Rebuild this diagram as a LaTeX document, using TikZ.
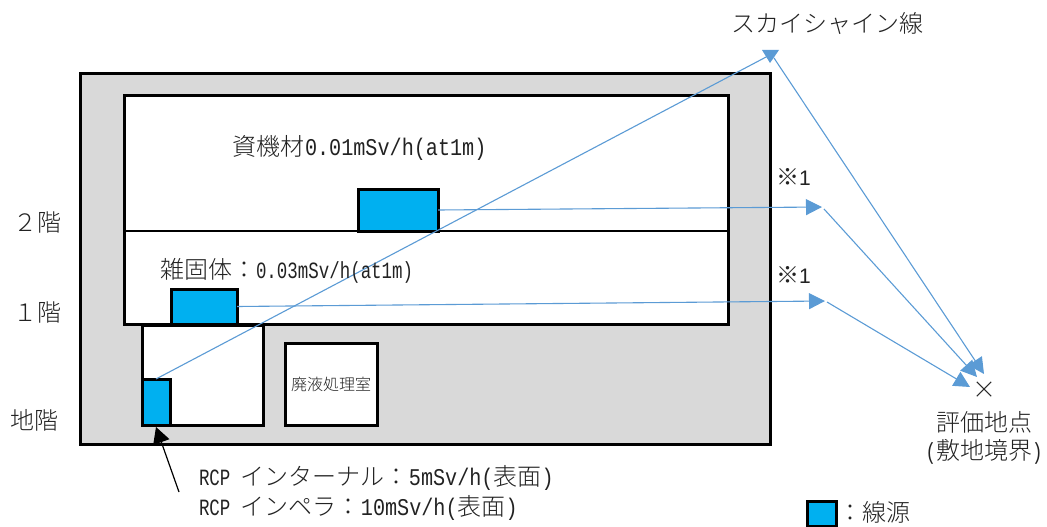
\documentclass[tikz,border=0pt]{standalone}
\usepackage{fontspec}
\usetikzlibrary{arrows.meta}
\newfontfamily\jpf{Noto Sans CJK JP Light}
\newfontfamily\latf[Scale=0.97,FakeStretch=0.75]{Liberation Mono}
\newfontfamily\latwide[Scale=1.0,FakeStretch=0.84]{Liberation Mono}
\newfontfamily\sansf{Liberation Sans}
\definecolor{wallgray}{HTML}{D9D9D9}
\definecolor{srcblue}{HTML}{00B0F0}
\definecolor{rayblue}{HTML}{5B9BD5}
\definecolor{inkgray}{HTML}{222222}
\tikzset{
  x=1pt,y=-1pt,
  room/.style={draw=black,line width=3pt,fill=white,inner sep=0pt,outer sep=0pt,anchor=north west},
  srcbox/.style={room,fill=srcblue},
  lbl/.style={inner sep=0pt,outer sep=0pt,text=inkgray,font=\jpf\fontsize{24}{28}\selectfont,align=center},
  smalllbl/.style={lbl,font=\jpf\fontsize{16}{18}\selectfont},
  ray/.style={draw=rayblue,line width=1.1pt},
  rayarrow/.style={ray,-{Triangle[length=16pt,width=16pt,fill=rayblue]}},
  leader/.style={draw=black,line width=1.2pt,-{Triangle[length=16pt,width=17pt,fill=black]}},
}
\begin{document}
\begin{tikzpicture}
\useasboundingbox (0,0) rectangle (1047,527);
% building
\node[room,fill=wallgray,minimum width=690pt,minimum height=370pt] (bldg) at (80,74) {};
\node[room,minimum width=604pt,minimum height=229pt] (floors) at (124,95) {};
\node[room,minimum width=121pt,minimum height=100pt] (pit) at (142,325) {};
\node[room,minimum width=92pt,minimum height=82pt] (waste) at (285,343) {};
\node[srcbox,minimum width=80pt,minimum height=42pt] (src2f) at (358,189) {};
\node[srcbox,minimum width=66pt,minimum height=35pt] (src1f) at (171,289) {};
\node[srcbox,minimum width=28pt,minimum height=46pt] (srcb) at (142,379) {};
\draw[black,line width=2.5pt] (floors.west |- src2f.south) -- (floors.east |- src2f.south);
% free ends
\coordinate (sky) at (768,56);
\coordinate (skyout) at (774,58);
\coordinate (re2) at (822,207);
\coordinate (re2out) at (824,209);
\coordinate (re1) at (825,301);
\coordinate (re1out) at (827,302);
\coordinate (eval1) at (984,374);
\coordinate (eval2) at (977,377);
\coordinate (eval3) at (970,387);
\coordinate (leadtail) at (179,492);
\coordinate (leadtip) at (156,427);
% rays
\draw[ray] (srcb.north) -- (sky);
\fill[rayblue] (762,50) -- (779,50) -- (770,63) -- cycle;
\draw[rayarrow] (skyout) -- (eval1);
\draw[rayarrow] (src2f.east) -- (re2);
\draw[rayarrow] (re2out) -- (eval2);
\draw[rayarrow] (src1f.east) -- (re1);
\draw[rayarrow] (re1out) -- (eval3);
\draw[leader] (leadtail) -- (leadtip);
% labels
\node[lbl,anchor=west] (skylbl) at (731,23) {スカイシャイン線};
\node[lbl,anchor=west] (lab2f) at (232,148) {資機材\hspace{1pt}{\latwide 0.01mSv/h(at1m)}};
\node[lbl,anchor=west] (lab1f) at (160,271) {雑固体：{\latf 0.03mSv/h(at1m)}};
\node[lbl,anchor=west] (f2) at (13,222) {２階};
\node[lbl,anchor=west] (f1) at (13,312) {１階};
\node[lbl,anchor=west] (fb) at (10,420) {地階};
\node[smalllbl] (wastelbl) at (waste.center) {廃液処理室};
\node[lbl,font=\sansf\fontsize{21}{24}\selectfont,anchor=west] (note2) at (776,177) {{\jpf\fontsize{23}{24}\selectfont ※}1};
\node[lbl,font=\sansf\fontsize{21}{24}\selectfont,anchor=west] (note1) at (776,275) {{\jpf\fontsize{23}{24}\selectfont ※}1};
\node[lbl] (cross) at (984,390) {×};
\node[lbl,anchor=center] (evallbl1) at (984,422) {評価地点};
\node[lbl,anchor=center] (evallbl2) at (984,452) {{\latf(}敷地境界{\latf)}};
\node[lbl,anchor=west] (rcp1) at (199,478) {{\latf RCP }インターナル：{\latwide 5mSv/h(}表面{\latwide )}};
\node[lbl,anchor=west] (rcp2) at (199,508) {{\latf RCP }インペラ：{\latwide 10mSv/h(}表面{\latwide )}};
\node[srcbox,minimum width=29pt,minimum height=25pt] (legend) at (807,501) {};
\node[lbl,anchor=west] (legendlbl) at (838,512) {：線源};
\end{tikzpicture}
\end{document}
